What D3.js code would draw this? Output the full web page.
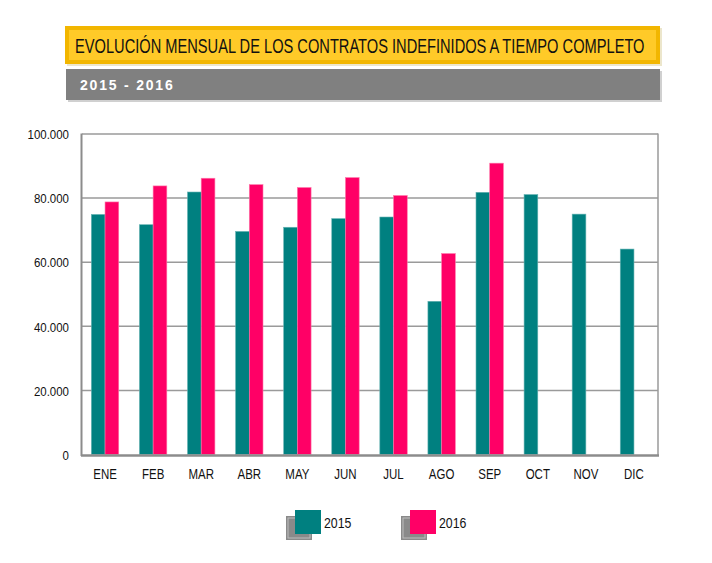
<!DOCTYPE html>
<html><head><meta charset="utf-8">
<script src="https://cdn.jsdelivr.net/npm/d3@7"></script>
<style>body{margin:0;background:#fff}svg{display:block}</style>
</head><body>
<script>
const months = ["ENE","FEB","MAR","ABR","MAY","JUN","JUL","AGO","SEP","OCT","NOV","DIC"];
const series = ["2015","2016"];
const values2015 = [74900,71700,81900,69600,70900,73600,74100,47800,81800,81100,75000,64100];
const values2016 = [78800,83800,86200,84200,83300,86400,80800,62700,90900,null,null,null];
const yTicks = [0,20000,40000,60000,80000,100000];
const yTickLabels = ["0","20.000","40.000","60.000","80.000","100.000"];
const colors = ["#008080","#ff0066"];
const title = "EVOLUCIÓN MENSUAL DE LOS CONTRATOS INDEFINIDOS A TIEMPO COMPLETO";
const subtitle = "2015 - 2016";

const W=712,H=563;
const svg=d3.select("body").append("svg").attr("width",W).attr("height",H);

// Title boxes
svg.append("rect").attr("x",67).attr("y",28).attr("width",595).attr("height",38).attr("fill","#ece6cc");
svg.append("rect").attr("x",65).attr("y",26).attr("width",595).attr("height",38).attr("fill","#f2b600");
svg.append("rect").attr("x",69).attr("y",30).attr("width",587).attr("height",30).attr("fill","#ffca28");
const tt=svg.append("text").attr("x",0).attr("y",0).attr("font-family","'Liberation Sans Narrow','Arial Narrow',Arial,sans-serif")
  .attr("font-size",20).attr("fill","#111").text(title);
const tw=tt.node().getComputedTextLength();
tt.attr("transform",`translate(75,52.5) scale(${570/tw},1)`);
svg.append("rect").attr("x",68).attr("y",71).attr("width",594).attr("height",31).attr("fill","#d0d0d0");
svg.append("rect").attr("x",66).attr("y",69).attr("width",594).attr("height",31).attr("fill","#808080");
svg.append("text").attr("x",80).attr("y",90).attr("font-family","'Liberation Sans',Arial,sans-serif").attr("font-weight","bold")
  .attr("font-size",14).attr("fill","#fff").attr("letter-spacing","1.8px").text(subtitle);

// Plot
const x0=d3.scaleBand().domain(months).range([81,658]).paddingInner(0.43).paddingOuter(0.215);
const x1=d3.scaleBand().domain(series).range([0,x0.bandwidth()]);
const y=d3.scaleLinear().domain([0,100000]).range([454.5,134]);

const g=svg.append("g");
g.selectAll("line.grid").data(yTicks.filter(d=>d>0)).join("line")
  .attr("x1",82).attr("x2",658).attr("y1",d=>y(d)).attr("y2",d=>y(d))
  .attr("stroke","#9a9a9a").attr("stroke-width",1.5);
g.append("line").attr("x1",658).attr("x2",658).attr("y1",133.5).attr("y2",455).attr("stroke","#9a9a9a").attr("stroke-width",1.5);

const data=months.map((m,i)=>({m,vals:[values2015[i],values2016[i]]}));
const grp=g.selectAll("g.m").data(data).join("g").attr("transform",d=>`translate(${x0(d.m)},0)`);
grp.selectAll("rect").data(d=>d.vals.map((v,j)=>({v,s:series[j],j})).filter(o=>o.v!=null)).join("rect")
  .attr("x",o=>x1(o.s)).attr("width",x1.bandwidth()).attr("y",o=>y(o.v)).attr("height",o=>y(0)-y(o.v))
  .attr("fill",o=>colors[o.j]).attr("stroke",o=>o.j?"#ff77aa":"#66b3b3").attr("stroke-width",0.6);

g.append("line").attr("x1",81.5).attr("x2",81.5).attr("y1",133.5).attr("y2",456).attr("stroke","#8c8c8c").attr("stroke-width",2);
g.append("line").attr("x1",81).attr("x2",659).attr("y1",455.5).attr("y2",455.5).attr("stroke","#8c8c8c").attr("stroke-width",2.5);

const yAxis=d3.axisLeft(y).tickValues(yTicks).tickFormat((d,i)=>yTickLabels[i]).tickSize(0).tickPadding(0);
const ya=svg.append("g").attr("transform","translate(69,0)").call(yAxis);
ya.select(".domain").remove();
ya.selectAll("text").attr("font-family","'Liberation Sans',Arial,sans-serif").attr("font-size",13.5).attr("fill","#111")
  .attr("dy","0.35em").attr("transform","scale(0.85,1)");

const xAxis=d3.axisBottom(x0).tickSize(0).tickPadding(0);
const xa=svg.append("g").attr("transform","translate(0,469)").call(xAxis);
xa.select(".domain").remove();
xa.selectAll("text").attr("font-family","'Liberation Sans',Arial,sans-serif").attr("font-size",14).attr("fill","#111")
  .attr("dy","0.71em").attr("transform","scale(0.82,1)");

const leg=svg.append("g");
const lx=[286,401];
series.forEach((s,i)=>{
  const gx=lx[i];
  leg.append("rect").attr("x",gx).attr("y",516).attr("width",26).attr("height",24).attr("fill","#8a8a8a");
  leg.append("rect").attr("x",gx+2).attr("y",518).attr("width",22).attr("height",20).attr("fill","none").attr("stroke","#bdbdbd").attr("stroke-width",1);
  leg.append("rect").attr("x",gx+9).attr("y",510).attr("width",26).attr("height",24).attr("fill",colors[i]);
  leg.append("text").attr("x",gx+38).attr("y",528).attr("font-family","'Liberation Sans',Arial,sans-serif").attr("font-size",14.5)
    .attr("fill","#111").attr("transform",`translate(${gx+38},0) scale(0.85,1) translate(${-(gx+38)},0)`).text(s);
});
</script>
</body></html>
